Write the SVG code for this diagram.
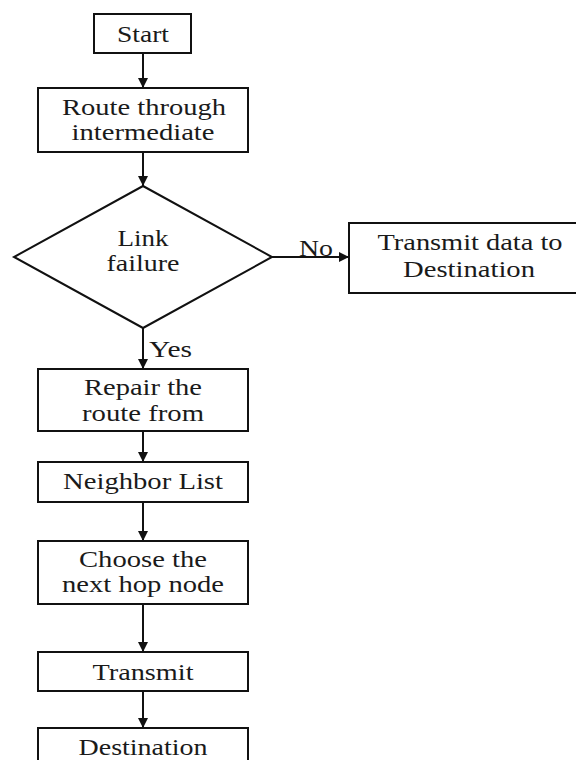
<svg xmlns="http://www.w3.org/2000/svg" width="576" height="760" viewBox="0 0 576 760">
<style>
.box{fill:#fff;stroke:#111;stroke-width:2}
.t{font-family:"Liberation Serif","Times New Roman",serif;font-size:23.5px;fill:#1a1a1a;text-anchor:middle}
.l{font-family:"Liberation Serif","Times New Roman",serif;font-size:23.5px;fill:#1a1a1a}
.c{fill:none;stroke:#111;stroke-width:2}
</style>
<defs>
<marker id="ah" markerUnits="userSpaceOnUse" markerWidth="12" markerHeight="12" refX="10" refY="5" orient="auto">
<path d="M0,0 L10,5 L0,10 Z" fill="#111"/>
</marker>
</defs>
<rect width="576" height="760" fill="#fff"/>
<g id="connectors">
<line class="c" x1="143" y1="53" x2="143" y2="88" marker-end="url(#ah)"/>
<line class="c" x1="143" y1="152" x2="143" y2="186" marker-end="url(#ah)"/>
<line class="c" x1="272" y1="257" x2="349" y2="257" marker-end="url(#ah)"/>
<line class="c" x1="143" y1="328" x2="143" y2="369" marker-end="url(#ah)"/>
<line class="c" x1="143" y1="431" x2="143" y2="462" marker-end="url(#ah)"/>
<line class="c" x1="143" y1="502" x2="143" y2="541" marker-end="url(#ah)"/>
<line class="c" x1="143" y1="604" x2="143" y2="652" marker-end="url(#ah)"/>
<line class="c" x1="143" y1="691" x2="143" y2="728" marker-end="url(#ah)"/>
<text class="l" x="299" y="256" textLength="34" lengthAdjust="spacingAndGlyphs">No</text>
<text class="l" x="149" y="357" textLength="43" lengthAdjust="spacingAndGlyphs">Yes</text>
</g>
<g id="start">
<rect class="box" x="94" y="14" width="97" height="39"/>
<text class="t" x="143" y="42" textLength="52" lengthAdjust="spacingAndGlyphs">Start</text>
</g>
<g id="route">
<rect class="box" x="38" y="88" width="210" height="64"/>
<text class="t" x="144" y="115" textLength="164" lengthAdjust="spacingAndGlyphs">Route through</text>
<text class="t" x="143" y="140" textLength="143" lengthAdjust="spacingAndGlyphs">intermediate</text>
</g>
<g id="linkfailure">
<polygon class="box" points="143,186 272,257 143,328 14,257"/>
<text class="t" x="143" y="246" textLength="51" lengthAdjust="spacingAndGlyphs">Link</text>
<text class="t" x="143" y="271" textLength="73" lengthAdjust="spacingAndGlyphs">failure</text>
</g>
<g id="transmitdata">
<rect class="box" x="349" y="223" width="240" height="70"/>
<text class="t" x="470" y="250" textLength="185" lengthAdjust="spacingAndGlyphs">Transmit data to</text>
<text class="t" x="469" y="277" textLength="132" lengthAdjust="spacingAndGlyphs">Destination</text>
</g>
<g id="repair">
<rect class="box" x="38" y="369" width="210" height="62"/>
<text class="t" x="143" y="395" textLength="118" lengthAdjust="spacingAndGlyphs">Repair the</text>
<text class="t" x="143" y="421" textLength="122" lengthAdjust="spacingAndGlyphs">route from</text>
</g>
<g id="neighbor">
<rect class="box" x="38" y="462" width="210" height="40"/>
<text class="t" x="143" y="489" textLength="160" lengthAdjust="spacingAndGlyphs">Neighbor List</text>
</g>
<g id="choose">
<rect class="box" x="38" y="541" width="210" height="63"/>
<text class="t" x="143" y="567" textLength="128" lengthAdjust="spacingAndGlyphs">Choose the</text>
<text class="t" x="143" y="592" textLength="162" lengthAdjust="spacingAndGlyphs">next hop node</text>
</g>
<g id="transmit">
<rect class="box" x="38" y="652" width="210" height="39"/>
<text class="t" x="143" y="680" textLength="101" lengthAdjust="spacingAndGlyphs">Transmit</text>
</g>
<g id="destination">
<rect class="box" x="38" y="728" width="210" height="50"/>
<text class="t" x="143" y="755" textLength="129" lengthAdjust="spacingAndGlyphs">Destination</text>
</g>
</svg>
